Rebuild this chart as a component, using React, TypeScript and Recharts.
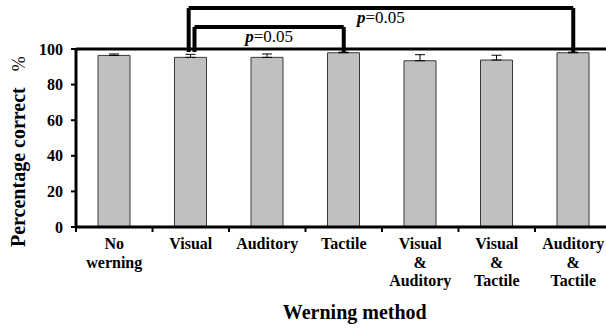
import React from 'react';
import { BarChart, Bar, XAxis, YAxis, ErrorBar, ReferenceLine } from 'recharts';

const categories = ['No\nwerning', 'Visual', 'Auditory', 'Tactile', 'Visual\n&\nAuditory', 'Visual\n&\nTactile', 'Auditory\n&\nTactile'];
const means = [96.4, 95.3, 95.3, 97.9, 93.4, 93.8, 97.9];
const errUp = [0.8, 1.7, 1.9, 0.3, 3.4, 2.7, 0.3];
const yTicks = [0, 20, 40, 60, 80, 100];
const slotTicks = [0, 0.5, 1, 1.5, 2, 2.5, 3, 3.5, 4, 4.5, 5, 5.5, 6, 6.5, 7];
const pText = '=0.05';

const data = categories.map((c, i) => ({ name: c, slot: i + 0.5, value: means[i], err: [0, errUp[i]] }));

const FONT = '"Liberation Serif", "Times New Roman", serif';

const SlotTick = (props: any) => {
  const { x, y, payload } = props;
  const v = Number(payload.value);
  if (Number.isInteger(v)) {
    return <line x1={x} y1={y} x2={x} y2={y + 5} stroke="#000" strokeWidth={2} />;
  }
  const label = categories[Math.floor(v)] || '';
  const lines = label.split('\n');
  return (
    <text x={x} y={y + 22} textAnchor="middle" fontFamily={FONT} fontWeight="bold" fontSize={16} fill="#000">
      {lines.map((l, i) => (
        <tspan key={i} x={x} dy={i === 0 ? 0 : 18.5}>{l}</tspan>
      ))}
    </text>
  );
};

const pLabel = (props: any) => {
  const vb = props.viewBox || {};
  const cx = vb.x + (vb.width || 0) / 2;
  return (
    <text x={cx} y={vb.y + 15} textAnchor="middle" fontFamily={FONT} fontSize={17} fill="#000">
      <tspan fontWeight="bold" fontStyle="italic">p</tspan>
      <tspan>{pText}</tspan>
    </text>
  );
};

const yLabel = (props: any) => {
  const vb = props.viewBox || {};
  const x = vb.x + 25;
  const y = vb.y + vb.height + 20;
  return (
    <text x={x} y={y} transform={`rotate(-90, ${x}, ${y})`} textAnchor="start" fontFamily={FONT} fill="#000">
      <tspan fontWeight="bold" fontSize={20}>Percentage correct</tspan>
      <tspan dx={16} fontSize={18}>%</tspan>
    </text>
  );
};

export default function App() {
  return (
    <div style={{ position: 'absolute', left: 0, top: 0, width: 606, height: 328, overflow: 'hidden', background: '#fff' }}>
      <BarChart width={620} height={328} data={data} margin={{ top: 49, right: 8.5, bottom: 0, left: 0 }}>
        <XAxis dataKey="name" xAxisId="cat" hide height={0} />
        <XAxis
          xAxisId="slot"
          dataKey="slot"
          type="number"
          domain={[0, 7]}
          ticks={slotTicks}
          interval={0}
          allowDataOverflow
          height={101}
          axisLine={{ stroke: '#000', strokeWidth: 3 }}
          tickLine={false}
          tickSize={0}
          tickMargin={0}
          tick={SlotTick}
          label={{ value: 'Werning method', position: 'insideBottom', offset: 9, dx: 11, fontFamily: FONT, fontWeight: 'bold', fontSize: 20, fill: '#000' }}
        />
        <YAxis
          width={76}
          domain={[0, 100]}
          ticks={yTicks}
          axisLine={{ stroke: '#000', strokeWidth: 3 }}
          tickLine={{ stroke: '#000', strokeWidth: 2 }}
          tickSize={5}
          tickMargin={8}
          tick={{ fontFamily: FONT, fontWeight: 'bold', fontSize: 16, fill: '#000' }}
          label={yLabel}
        />
        <Bar dataKey="value" xAxisId="cat" fill="#c0c0c0" stroke="#3a3a3a" strokeWidth={1} barSize={32} isAnimationActive={false}>
          <ErrorBar dataKey="err" width={5} stroke="#000" strokeWidth={1} direction="y" isAnimationActive={false} />
        </Bar>
        <ReferenceLine xAxisId="slot" y={100} stroke="#000" strokeWidth={3} />
        <ReferenceLine xAxisId="slot" ifOverflow="visible" stroke="#000" strokeWidth={4}
          segment={[{ x: 1.549, y: 98.3 }, { x: 1.549, y: 112.4 }]} />
        <ReferenceLine xAxisId="slot" ifOverflow="visible" stroke="#000" strokeWidth={4}
          segment={[{ x: 1.549, y: 112.4 }, { x: 3.5, y: 112.4 }]} label={pLabel} />
        <ReferenceLine xAxisId="slot" ifOverflow="visible" stroke="#000" strokeWidth={4}
          segment={[{ x: 3.5, y: 112.4 }, { x: 3.5, y: 98.3 }]} />
        <ReferenceLine xAxisId="slot" ifOverflow="visible" stroke="#000" strokeWidth={4}
          segment={[{ x: 1.473, y: 98.3 }, { x: 1.473, y: 123.0 }]} />
        <ReferenceLine xAxisId="slot" ifOverflow="visible" stroke="#000" strokeWidth={4}
          segment={[{ x: 1.473, y: 123.0 }, { x: 6.5, y: 123.0 }]} label={pLabel} />
        <ReferenceLine xAxisId="slot" ifOverflow="visible" stroke="#000" strokeWidth={4}
          segment={[{ x: 6.5, y: 123.0 }, { x: 6.5, y: 98.3 }]} />
      </BarChart>
    </div>
  );
}
